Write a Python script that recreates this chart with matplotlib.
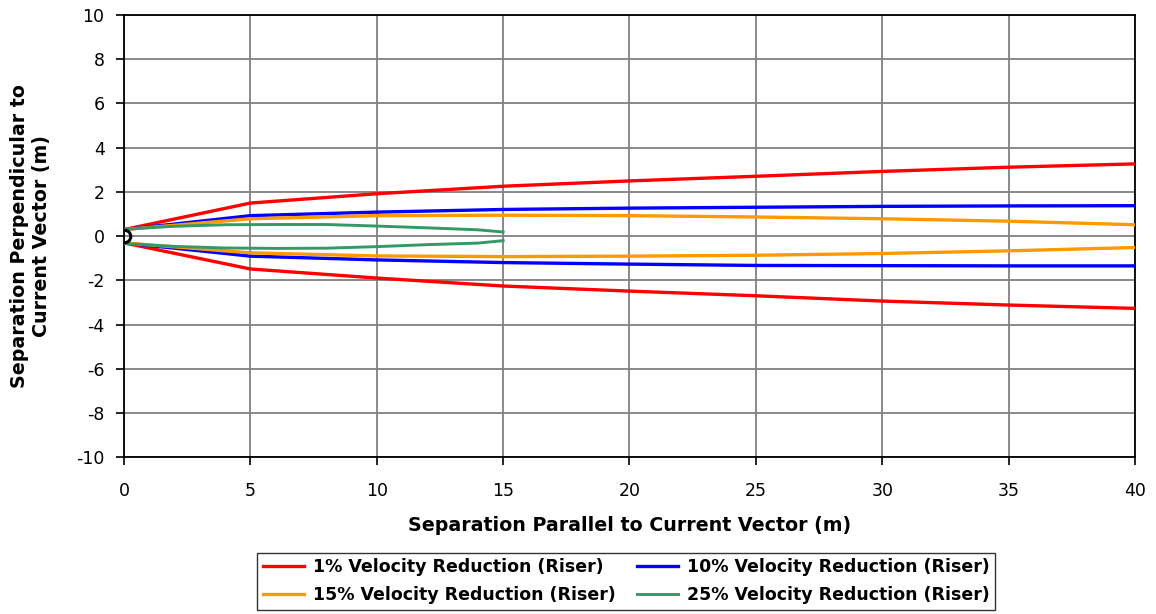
import matplotlib
matplotlib.use("Agg")
import matplotlib.pyplot as plt

plt.rcParams['axes.unicode_minus'] = False

# ---- data ----
x_main = [0, 5, 10, 15, 20, 25, 30, 35, 40]
red_up = [0.3, 1.5, 1.92, 2.26, 2.5, 2.71, 2.93, 3.12, 3.27]
red_lo = [-0.3, -1.48, -1.89, -2.25, -2.48, -2.69, -2.93, -3.11, -3.26]
blue_up = [0.3, 0.93, 1.09, 1.21, 1.27, 1.31, 1.35, 1.37, 1.38]
blue_lo = [-0.3, -0.9, -1.07, -1.19, -1.26, -1.32, -1.33, -1.34, -1.34]
orange_up = [0.3, 0.79, 0.93, 0.95, 0.93, 0.87, 0.79, 0.68, 0.52]
orange_lo = [-0.3, -0.75, -0.89, -0.92, -0.90, -0.86, -0.78, -0.66, -0.51]
x_green = [0, 2, 4, 6, 8, 10, 12, 14, 15]
green_up = [0.32, 0.45, 0.52, 0.53, 0.53, 0.46, 0.38, 0.29, 0.19]
green_lo = [-0.33, -0.46, -0.53, -0.55, -0.54, -0.47, -0.38, -0.31, -0.2]
riser_x = [0]
riser_y = [0]

labels = ["1% Velocity Reduction (Riser)", "10% Velocity Reduction (Riser)",
          "15% Velocity Reduction (Riser)", "25% Velocity Reduction (Riser)"]
colors = ["#FF0000", "#0000FF", "#FF9900", "#339966"]

x_ticks = list(range(0, 41, 5))
y_ticks = list(range(-10, 11, 2))

fig = plt.figure(figsize=(11.56, 6.14), dpi=100)
ax = fig.add_axes([0.1073, 0.2549, 0.8745, 0.7207])

series = [(x_main, red_up, red_lo, 2.4), (x_main, blue_up, blue_lo, 2.4),
          (x_main, orange_up, orange_lo, 2.4), (x_green, green_up, green_lo, 2.1)]
handles = []
for (xs, up, lo, lw), c, lab in zip(series, colors, labels):
    h, = ax.plot(xs, up, color=c, lw=lw, label=lab, zorder=3)
    ax.plot(xs, lo, color=c, lw=lw, zorder=3)
    handles.append(h)

ax.plot(riser_x, riser_y, 'o', ms=9, mfc='none', mec='black', mew=2.2, zorder=4)

ax.set_xlim(0, 40)
ax.set_ylim(-10, 10)
ax.set_xticks(x_ticks)
ax.set_yticks(y_ticks)
ax.grid(True, color="#808080", lw=1.3)
ax.set_axisbelow(True)
for s in ax.spines.values():
    s.set_color("black")
    s.set_linewidth(1.3)
ax.tick_params(axis='both', direction='out', length=6, width=1.2, labelsize=12.5)
ax.tick_params(axis='x', pad=12)
ax.tick_params(axis='y', pad=8)

ax.set_xlabel("Separation Parallel to Current Vector (m)", fontsize=13.7,
              fontweight='bold', labelpad=11)
ax.set_ylabel("Separation Perpendicular to\nCurrent Vector (m)", fontsize=13.7,
              fontweight='bold', labelpad=18)

order = [0, 2, 1, 3]
leg = fig.legend(handles=[handles[i] for i in order], loc='center',
                 bbox_to_anchor=(0.5417, 0.0535),
                 ncol=2, frameon=True, fancybox=False, edgecolor='black',
                 prop={'weight': 'bold', 'size': 12.5}, handlelength=2.4,
                 columnspacing=1.2, handletextpad=0.5, borderpad=0.3,
                 labelspacing=0.6)
leg.get_frame().set_linewidth(1.0)

fig.savefig("out.png", dpi=100)
